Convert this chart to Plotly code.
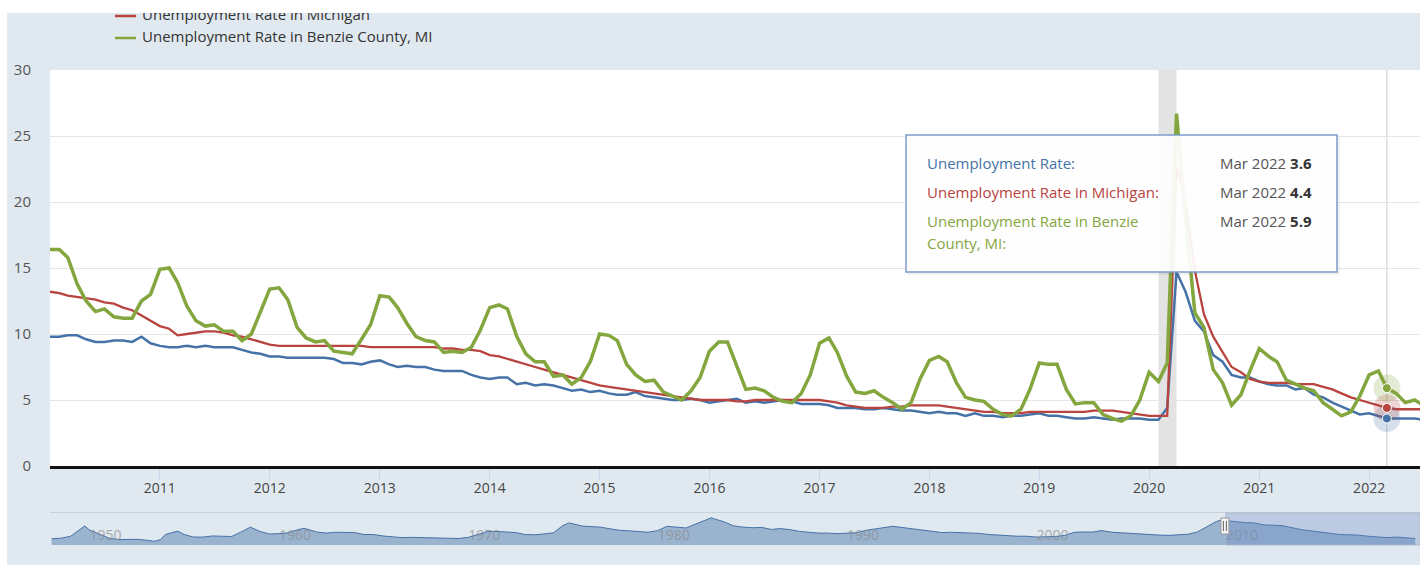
import plotly.graph_objects as go
import pandas as pd

W, H = 1428, 565

# ---------------- data ----------------
dates = pd.date_range("2010-01-01", periods=151, freq="MS")

us_rate = [
    9.8, 9.8, 9.9, 9.9, 9.6, 9.4, 9.4, 9.5, 9.5, 9.4, 9.8, 9.3,
    9.1, 9.0, 9.0, 9.1, 9.0, 9.1, 9.0, 9.0, 9.0, 8.8, 8.6, 8.5,
    8.3, 8.3, 8.2, 8.2, 8.2, 8.2, 8.2, 8.1, 7.8, 7.8, 7.7, 7.9,
    8.0, 7.7, 7.5, 7.6, 7.5, 7.5, 7.3, 7.2, 7.2, 7.2, 6.9, 6.7,
    6.6, 6.7, 6.7, 6.2, 6.3, 6.1, 6.2, 6.1, 5.9, 5.7, 5.8, 5.6,
    5.7, 5.5, 5.4, 5.4, 5.6, 5.3, 5.2, 5.1, 5.0, 5.0, 5.1, 5.0,
    4.8, 4.9, 5.0, 5.1, 4.8, 4.9, 4.8, 4.9, 5.0, 4.9, 4.7, 4.7,
    4.7, 4.6, 4.4, 4.4, 4.4, 4.3, 4.3, 4.4, 4.3, 4.2, 4.2, 4.1,
    4.0, 4.1, 4.0, 4.0, 3.8, 4.0, 3.8, 3.8, 3.7, 3.8, 3.8, 3.9,
    4.0, 3.8, 3.8, 3.7, 3.6, 3.6, 3.7, 3.6, 3.5, 3.6, 3.6, 3.6,
    3.5, 3.5, 4.4, 14.7, 13.2, 11.0, 10.2, 8.4, 7.9, 6.9, 6.7, 6.7,
    6.4, 6.2, 6.1, 6.1, 5.8, 5.9, 5.4, 5.2, 4.8, 4.5, 4.2, 3.9,
    4.0, 3.8, 3.6, 3.6, 3.6, 3.6, 3.5,
]

mi_rate = [
    13.2, 13.1, 12.9, 12.8, 12.7, 12.6, 12.4, 12.3, 12.0, 11.8, 11.4, 11.0,
    10.6, 10.4, 9.9, 10.0, 10.1, 10.2, 10.2, 10.1, 9.9, 9.8, 9.6, 9.4,
    9.2, 9.1, 9.1, 9.1, 9.1, 9.1, 9.1, 9.1, 9.1, 9.1, 9.1, 9.0,
    9.0, 9.0, 9.0, 9.0, 9.0, 9.0, 9.0, 8.9, 8.9, 8.8, 8.8, 8.7,
    8.4, 8.3, 8.1, 7.9, 7.7, 7.5, 7.3, 7.1, 6.9, 6.7, 6.5, 6.3,
    6.1, 6.0, 5.9, 5.8, 5.7, 5.6, 5.5, 5.4, 5.3, 5.2, 5.1, 5.0,
    5.0, 5.0, 5.0, 4.9, 4.9, 5.0, 5.0, 5.0, 5.0, 5.0, 5.0, 5.0,
    5.0, 4.9, 4.8, 4.6, 4.5, 4.4, 4.4, 4.4, 4.5, 4.5, 4.6, 4.6,
    4.6, 4.6, 4.5, 4.4, 4.3, 4.2, 4.1, 4.1, 4.0, 4.0, 4.0, 4.1,
    4.1, 4.1, 4.1, 4.1, 4.1, 4.1, 4.2, 4.2, 4.2, 4.1, 4.0, 3.9,
    3.8, 3.8, 3.8, 22.7, 20.0, 14.8, 11.5, 9.8, 8.6, 7.5, 7.1, 6.6,
    6.4, 6.3, 6.3, 6.3, 6.2, 6.2, 6.2, 6.0, 5.8, 5.5, 5.2, 5.0,
    4.8, 4.6, 4.4, 4.3, 4.3, 4.3, 4.3,
]

benzie_rate = [
    16.4, 16.4, 15.8, 13.8, 12.5, 11.7, 11.9, 11.3, 11.2, 11.2, 12.5, 13.0,
    14.9, 15.0, 13.9, 12.1, 11.0, 10.6, 10.7, 10.2, 10.2, 9.5, 10.0, 11.6,
    13.4, 13.5, 12.6, 10.5, 9.7, 9.4, 9.5, 8.7, 8.6, 8.5, 9.6, 10.7,
    12.9, 12.8, 12.0, 10.8, 9.8, 9.5, 9.4, 8.6, 8.7, 8.6, 9.0, 10.3,
    12.0, 12.2, 11.9, 9.8, 8.5, 7.9, 7.9, 6.8, 6.9, 6.2, 6.7, 7.9,
    10.0, 9.9, 9.5, 7.7, 6.9, 6.4, 6.5, 5.6, 5.3, 5.0, 5.7, 6.7,
    8.7, 9.4, 9.4, 7.6, 5.8, 5.9, 5.7, 5.2, 4.9, 4.8, 5.5, 6.9,
    9.3, 9.7, 8.6, 6.8, 5.6, 5.5, 5.7, 5.2, 4.8, 4.3, 4.8, 6.6,
    8.0, 8.3, 7.9, 6.3, 5.2, 5.0, 4.9, 4.3, 3.9, 3.8, 4.3, 5.8,
    7.8, 7.7, 7.7, 5.8, 4.7, 4.8, 4.8, 3.9, 3.6, 3.4, 3.8, 5.0,
    7.1, 6.4, 7.8, 26.7, 18.8, 11.6, 10.5, 7.3, 6.3, 4.6, 5.4, 7.2,
    8.9, 8.3, 7.9, 6.5, 6.2, 5.9, 5.7, 4.8, 4.3, 3.8, 4.1, 5.3,
    6.9, 7.2, 5.9, 5.5, 4.8, 5.0, 4.6,
]

# navigator (long history of the national rate)
nav_dates = [
    "1948-01", "1948-07", "1949-01", "1949-07", "1949-10", "1950-01", "1950-07",
    "1951-01", "1951-07", "1952-01", "1952-07", "1953-01", "1953-06", "1953-10",
    "1954-01", "1954-09", "1955-01", "1955-07", "1956-01", "1956-07", "1957-01",
    "1957-07", "1958-01", "1958-07", "1959-01", "1959-07", "1960-01", "1960-07",
    "1961-01", "1961-05", "1962-01", "1962-07", "1963-01", "1963-07", "1964-01",
    "1964-07", "1965-01", "1965-07", "1966-01", "1966-07", "1967-01", "1967-07",
    "1968-01", "1968-07", "1969-01", "1969-07", "1970-01", "1970-07", "1971-01",
    "1971-07", "1972-01", "1972-07", "1973-01", "1973-07", "1974-01", "1974-07",
    "1975-01", "1975-05", "1976-01", "1976-07", "1977-01", "1977-07", "1978-01",
    "1978-07", "1979-01", "1979-07", "1980-01", "1980-07", "1981-01", "1981-07",
    "1982-01", "1982-07", "1982-11", "1983-01", "1983-07", "1984-01", "1984-07",
    "1985-01", "1985-07", "1986-01", "1986-07", "1987-01", "1987-07", "1988-01",
    "1988-07", "1989-01", "1989-07", "1990-01", "1990-07", "1991-01", "1991-07",
    "1992-01", "1992-06", "1993-01", "1993-07", "1994-01", "1994-07", "1995-01",
    "1995-07", "1996-01", "1996-07", "1997-01", "1997-07", "1998-01", "1998-07",
    "1999-01", "1999-07", "2000-01", "2000-07", "2001-01", "2001-07", "2002-01",
    "2002-07", "2003-01", "2003-06", "2004-01", "2004-07", "2005-01", "2005-07",
    "2006-01", "2006-07", "2007-01", "2007-07", "2008-01", "2008-07", "2009-01",
    "2009-07", "2009-10", "2010-01", "2010-07", "2011-01", "2011-07", "2012-01",
    "2012-07", "2013-01", "2013-07", "2014-01", "2014-07", "2015-01", "2015-07",
    "2016-01", "2016-07", "2017-01", "2017-07", "2018-01", "2018-07", "2019-01",
    "2019-07", "2020-01",
]
nav_values = [
    3.4, 3.6, 4.3, 6.7, 7.9, 6.5, 5.0,
    3.7, 3.1, 3.2, 3.2, 2.9, 2.5, 3.1,
    4.9, 6.1, 4.9, 4.0, 4.0, 4.4, 4.2,
    4.2, 5.8, 7.5, 6.0, 5.1, 5.2, 5.5,
    6.6, 7.1, 5.8, 5.4, 5.7, 5.6, 5.6,
    4.9, 4.9, 4.4, 4.0, 3.8, 3.9, 3.8,
    3.7, 3.7, 3.4, 3.5, 3.9, 5.0, 5.9,
    6.0, 5.8, 5.6, 4.9, 4.8, 5.1, 5.5,
    8.1, 9.0, 7.9, 7.8, 7.5, 6.9, 6.4,
    6.2, 5.9, 5.7, 6.3, 7.8, 7.5, 7.2,
    8.6, 9.8, 10.8, 10.4, 9.4, 8.0, 7.5,
    7.3, 7.4, 6.7, 7.0, 6.6, 6.0, 5.7,
    5.4, 5.4, 5.2, 5.4, 5.5, 6.4, 6.8,
    7.3, 7.8, 7.3, 6.9, 6.6, 6.1, 5.6,
    5.7, 5.6, 5.5, 5.3, 4.9, 4.6, 4.5,
    4.3, 4.3, 4.0, 4.0, 4.2, 4.6, 5.7,
    5.8, 5.8, 6.3, 5.7, 5.5, 5.3, 5.0,
    4.7, 4.7, 4.6, 4.7, 5.0, 5.8, 7.8,
    9.5, 10.0, 9.8, 9.4, 9.1, 9.0, 8.3,
    8.2, 8.0, 7.3, 6.6, 6.2, 5.7, 5.2,
    4.9, 4.8, 4.7, 4.3, 4.0, 3.8, 4.0,
    3.7, 3.5,
]

series_names = [
    "Unemployment Rate",
    "Unemployment Rate in Michigan",
    "Unemployment Rate in Benzie County, MI",
]
series_values = [us_rate, mi_rate, benzie_rate]
colors = ["#4572A7", "#B8433F", "#84A63E"]
widths = [2.5, 2.3, 3.5]

recession_start, recession_end = "2020-02-01", "2020-04-01"
hover_date = "2022-03-01"
main_range = ["2010-01-01", "2022-06-19"]
nav_range = ["1947-12-01", "2020-04-01"]
nav_selected_start = "2010-01-01"
year_ticks = [d for d in dates if d.month == 1 and d.year >= 2011]

BG = "#E1E9F0"
FONT = "Open Sans"


def px(x):
    return x / W


def py(y):
    return 1 - y / H


fig = go.Figure()

# main lines
for name, vals, col, w in zip(series_names, series_values, colors, widths):
    fig.add_trace(go.Scatter(x=dates, y=vals, mode="lines", name=name,
                             line=dict(color=col, width=w), hoverinfo="skip",
                             xaxis="x", yaxis="y"))

# hover markers
hidx = list(dates).index(pd.Timestamp(hover_date))
for vals, col in zip(series_values, colors):
    fig.add_trace(go.Scatter(x=[dates[hidx]], y=[vals[hidx]], mode="markers",
                             marker=dict(size=27, color=col, opacity=0.22),
                             hoverinfo="skip", xaxis="x", yaxis="y"))
for vals, col in zip(series_values, colors):
    fig.add_trace(go.Scatter(x=[dates[hidx]], y=[vals[hidx]], mode="markers",
                             marker=dict(size=9, color=col, line=dict(color="white", width=1)),
                             hoverinfo="skip", xaxis="x", yaxis="y"))

# navigator
fig.add_trace(go.Scatter(x=pd.to_datetime(nav_dates), y=nav_values, mode="lines",
                         line=dict(color="#4572A7", width=1),
                         fill="tozeroy", fillcolor="rgba(69,114,167,0.45)",
                         hoverinfo="skip", xaxis="x2", yaxis="y2"))

# legend (helper axes, clipped at top like the reference)
leg_rows = [(series_names[1], colors[1], 16), (series_names[2], colors[2], 38)]
for name, col, yy in leg_rows:
    fig.add_trace(go.Scatter(x=[115, 136], y=[yy, yy], mode="lines",
                             line=dict(color=col, width=2.5), hoverinfo="skip",
                             xaxis="x3", yaxis="y3"))
    fig.add_trace(go.Scatter(x=[142], y=[yy], mode="text", text=[name],
                             textposition="middle right",
                             textfont=dict(family=FONT, size=15, color="#333333"),
                             hoverinfo="skip", xaxis="x3", yaxis="y3"))

shapes = []
# page background
shapes.append(dict(type="rect", xref="paper", yref="paper", x0=px(7), x1=px(1420),
                   y0=0, y1=py(13), fillcolor=BG, line=dict(width=0), layer="below"))
# white plot area
shapes.append(dict(type="rect", xref="paper", yref="paper", x0=px(50), x1=px(1420),
                   y0=py(466), y1=py(70), fillcolor="white", line=dict(width=0), layer="below"))
# recession band
shapes.append(dict(type="rect", xref="x", yref="y domain", x0=recession_start, x1=recession_end,
                   y0=0, y1=1, fillcolor="#E3E3E3", line=dict(width=0), layer="below"))
# crosshair
shapes.append(dict(type="line", xref="x", yref="y domain", x0=hover_date, x1=hover_date,
                   y0=0, y1=1, line=dict(color="#CCCCCC", width=1), layer="below"))
# navigator top border
shapes.append(dict(type="line", xref="paper", yref="paper", x0=px(50), x1=px(1420),
                   y0=py(512.5), y1=py(512.5), line=dict(color="#C8D0D8", width=1)))
# navigator selected mask
shapes.append(dict(type="rect", xref="x2", yref="y2 domain", x0=nav_selected_start, x1=nav_range[1],
                   y0=0, y1=1, fillcolor="rgba(102,133,194,0.3)",
                   line=dict(color="rgba(170,180,200,0.8)", width=1)))
# navigator handle
shapes.append(dict(type="rect", xref="x2", yref="paper", xsizemode="pixel", xanchor=nav_selected_start,
                   x0=-5, x1=3, y0=py(534), y1=py(518), fillcolor="#F5F5F5",
                   line=dict(color="#999999", width=1)))
for dx in (-2.5, 0.5):
    shapes.append(dict(type="line", xref="x2", yref="paper", xsizemode="pixel", xanchor=nav_selected_start,
                       x0=dx, x1=dx, y0=py(531), y1=py(521), line=dict(color="#666666", width=1)))
# tooltip
shapes.append(dict(type="rect", xref="paper", yref="paper", x0=px(908), x1=px(1340),
                   y0=py(275), y1=py(137), fillcolor="rgba(0,0,0,0.05)", line=dict(width=0),
                   layer="above"))
shapes.append(dict(type="rect", xref="paper", yref="paper", x0=px(906), x1=px(1337),
                   y0=py(272), y1=py(135), fillcolor="rgba(255,255,255,0.93)",
                   line=dict(color="#7B9CCB", width=1.5), layer="above"))

annotations = []
date_txt = pd.Timestamp(hover_date).strftime("%b %Y")
name_lines = [[series_names[0] + ":"], [series_names[1] + ":"],
              ["Unemployment Rate in Benzie", "County, MI:"]]
row_y = [163, 192, 221]
for lines, col, yy, vals in zip(name_lines, colors, row_y, series_values):
    for k, ln in enumerate(lines):
        annotations.append(dict(xref="paper", yref="paper", x=px(925), y=py(yy + 22 * k),
                                xanchor="left", yanchor="middle", showarrow=False, text=ln,
                                font=dict(family=FONT, size=15, color=col)))
    annotations.append(dict(xref="paper", yref="paper", x=px(1314), y=py(yy),
                            xanchor="right", yanchor="middle", showarrow=False,
                            text=f"{date_txt} <span style='color:#333'><b>{vals[hidx]:.1f}</b></span>",
                            font=dict(family=FONT, size=15, color="#555555")))

fig.update_layout(
    width=W, height=H,
    margin=dict(l=0, r=0, t=0, b=0, autoexpand=False),
    paper_bgcolor="white",
    plot_bgcolor="rgba(0,0,0,0)",
    showlegend=False,
    font=dict(family=FONT, color="#444444"),
    shapes=shapes,
    annotations=annotations,
    xaxis=dict(domain=[px(50), px(1420)], type="date", range=main_range,
               tickmode="array", tickvals=year_ticks, tickformat="%Y",
               ticks="outside", ticklen=11, tickcolor="#CCD6EB", tickwidth=1,
               ticklabelstandoff=-4,
               showgrid=False, zeroline=False,
               showline=True, linecolor="#111111", linewidth=2.5,
               tickfont=dict(family=FONT, size=14, color="#444444"),
               anchor="y", fixedrange=True, automargin=False),
    yaxis=dict(domain=[py(466), py(70)], range=[0, 30], dtick=5,
               showgrid=True, gridcolor="#E6E6E6", gridwidth=1, zeroline=False,
               ticks="", ticklabelstandoff=18,
               tickfont=dict(family=FONT, size=15, color="#555555"),
               anchor="x", fixedrange=True, automargin=False),
    xaxis2=dict(domain=[px(50), px(1420)], type="date", range=nav_range,
                tick0="1950-01-01", dtick="M120", tickformat="%Y",
                ticklabelposition="inside right", ticks="", ticklabelstandoff=-4,
                showgrid=False, zeroline=False, showline=False,
                tickfont=dict(family=FONT, size=14, color="rgba(140,140,140,0.7)"),
                anchor="y2", fixedrange=True, automargin=False),
    yaxis2=dict(domain=[py(545), py(513)], range=[1.2, 12.5],
                showgrid=False, zeroline=False, showticklabels=False, ticks="",
                anchor="x2", fixedrange=True, automargin=False),
    xaxis3=dict(domain=[0, px(700)], range=[0, 700], visible=False, anchor="y3",
                fixedrange=True, automargin=False),
    yaxis3=dict(domain=[py(68), py(13)], range=[68, 13], visible=False, anchor="x3",
                fixedrange=True, automargin=False),
)

fig.write_html("out.html", config={"displayModeBar": False},
               post_script="document.body.style.margin='0';document.body.style.overflow='hidden';")
